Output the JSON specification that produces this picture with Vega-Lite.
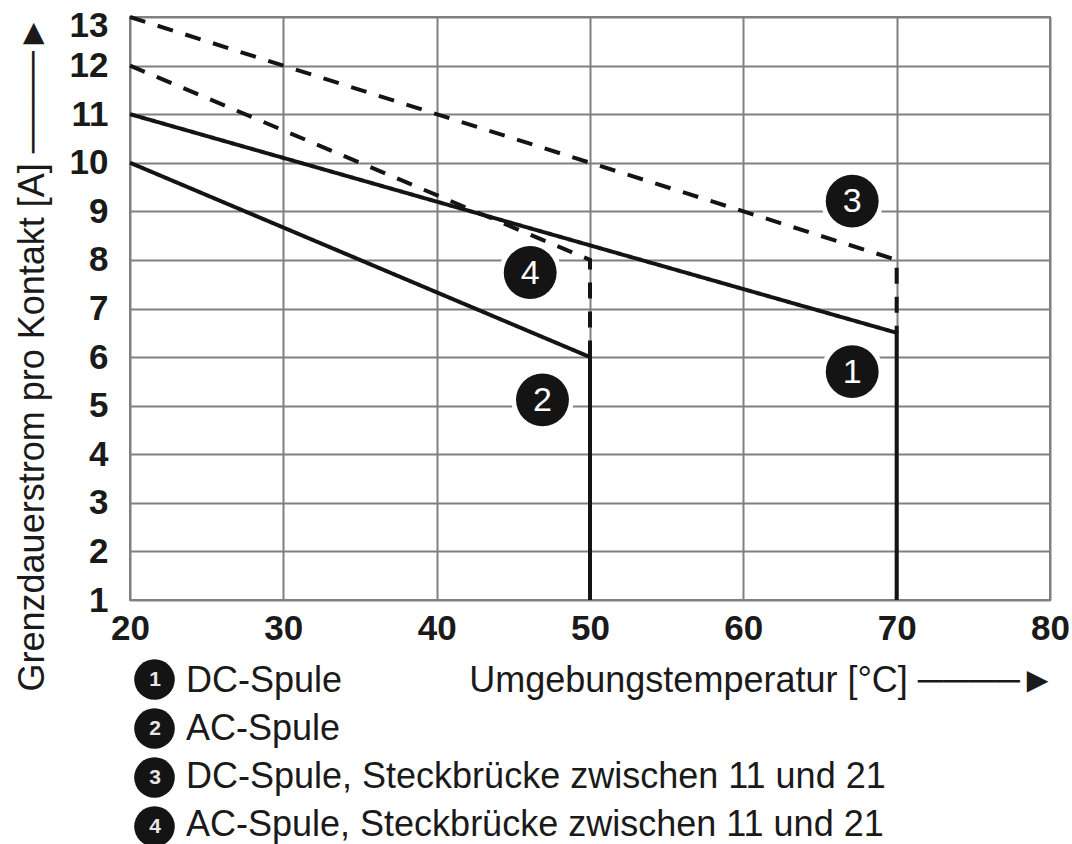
{
  "$schema": "https://vega.github.io/schema/vega-lite/v6.json",
  "width": 920,
  "height": 583,
  "autosize": {"type": "none"},
  "padding": {"left": 130, "top": 17, "right": 22, "bottom": 244},
  "background": "white",
  "config": {
    "font": "Liberation Sans, DejaVu Sans",
    "view": {"stroke": "#808080", "strokeWidth": 2}
  },
  "datasets": {
    "kurven": [
      {"kurve": "1 DC-Spule", "steckbruecke": "nein", "punkt": 1, "temp": 20, "strom": 11},
      {"kurve": "1 DC-Spule", "steckbruecke": "nein", "punkt": 2, "temp": 70, "strom": 6.5},
      {"kurve": "1 DC-Spule", "steckbruecke": "nein", "punkt": 3, "temp": 70, "strom": 1},
      {"kurve": "2 AC-Spule", "steckbruecke": "nein", "punkt": 1, "temp": 20, "strom": 10},
      {"kurve": "2 AC-Spule", "steckbruecke": "nein", "punkt": 2, "temp": 50, "strom": 6},
      {"kurve": "2 AC-Spule", "steckbruecke": "nein", "punkt": 3, "temp": 50, "strom": 1},
      {"kurve": "3 DC-Spule, Steckbrücke zwischen 11 und 21", "steckbruecke": "ja", "punkt": 1, "temp": 20, "strom": 13},
      {"kurve": "3 DC-Spule, Steckbrücke zwischen 11 und 21", "steckbruecke": "ja", "punkt": 2, "temp": 70, "strom": 8},
      {"kurve": "3 DC-Spule, Steckbrücke zwischen 11 und 21", "steckbruecke": "ja", "punkt": 3, "temp": 70, "strom": 6.5},
      {"kurve": "4 AC-Spule, Steckbrücke zwischen 11 und 21", "steckbruecke": "ja", "punkt": 1, "temp": 20, "strom": 12},
      {"kurve": "4 AC-Spule, Steckbrücke zwischen 11 und 21", "steckbruecke": "ja", "punkt": 2, "temp": 50, "strom": 8},
      {"kurve": "4 AC-Spule, Steckbrücke zwischen 11 und 21", "steckbruecke": "ja", "punkt": 3, "temp": 50, "strom": 6}
    ],
    "marken": [
      {"nr": "1", "kurve": "1 DC-Spule", "temp": 67.1, "strom": 5.7},
      {"nr": "2", "kurve": "2 AC-Spule", "temp": 46.9, "strom": 5.12},
      {"nr": "3", "kurve": "3 DC-Spule, Steckbrücke zwischen 11 und 21", "temp": 67.1, "strom": 9.21},
      {"nr": "4", "kurve": "4 AC-Spule, Steckbrücke zwischen 11 und 21", "temp": 46.1, "strom": 7.74}
    ]
  },
  "encoding": {
    "x": {
      "field": "temp",
      "type": "quantitative",
      "scale": {"domain": [20, 80], "nice": false, "zero": false},
      "axis": {
        "values": [20, 30, 40, 50, 60, 70, 80],
        "grid": true,
        "gridColor": "#808080",
        "gridWidth": 2,
        "gridOpacity": 1,
        "domain": false,
        "ticks": false,
        "labelFontSize": 35,
        "labelFontWeight": "bold",
        "labelColor": "#1a1a1a",
        "labelPadding": 11,
        "labelFlush": false,
        "title": "Umgebungstemperatur [°C]  ────►",
        "titleFontSize": 36,
        "titleFontWeight": "normal",
        "titleColor": "#1a1a1a",
        "titleX": 925,
        "titleY": 80,
        "titleAlign": "right",
        "titleBaseline": "middle"
      }
    },
    "y": {
      "field": "strom",
      "type": "quantitative",
      "scale": {"domain": [1, 13], "nice": false, "zero": false},
      "axis": {
        "values": [1, 2, 3, 4, 5, 6, 7, 8, 9, 10, 11, 12, 13],
        "grid": true,
        "gridColor": "#808080",
        "gridWidth": 2,
        "gridOpacity": 1,
        "domain": false,
        "ticks": false,
        "labelFontSize": 35,
        "labelFontWeight": "bold",
        "labelColor": "#1a1a1a",
        "labelPadding": 22,
        "labelFlush": false,
        "labelOffset": {"condition": {"test": "datum.value == 13", "value": 8}, "value": 0},
        "title": "Grenzdauerstrom pro Kontakt [A]  ────►",
        "titleFontSize": 36,
        "titleFontWeight": "normal",
        "titleColor": "#1a1a1a",
        "titleAngle": -90,
        "titleX": -98,
        "titleY": 336,
        "titleAlign": "center",
        "titleBaseline": "middle"
      }
    }
  },
  "layer": [
    {
      "data": {"name": "kurven"},
      "mark": {"type": "line", "strokeWidth": 4, "clip": false},
      "encoding": {
        "detail": {"field": "kurve"},
        "order": {"field": "punkt", "type": "quantitative"},
        "strokeDash": {
          "field": "steckbruecke",
          "type": "nominal",
          "scale": {"domain": ["nein", "ja"], "range": [[1, 0], [16, 13]]},
          "legend": null
        },
        "color": {
          "field": "kurve",
          "type": "nominal",
          "scale": {"range": ["#141414", "#141414", "#141414", "#141414"]},
          "legend": {
            "orient": "none",
            "legendX": 20,
            "legendY": 646,
            "direction": "vertical",
            "title": null,
            "padding": 0,
            "labelFontSize": 36,
            "labelColor": "#1a1a1a",
            "labelLimit": 1200,
            "labelOffset": 0,
            "symbolSize": 0,
            "symbolOpacity": 0,
            "symbolStrokeWidth": 0,
            "rowPadding": 12,
            "labelExpr": "slice(datum.label, 2)"
          }
        }
      }
    },
    {
      "data": {"name": "marken"},
      "mark": {"type": "point", "shape": "circle", "filled": true, "size": 3900, "color": "white", "opacity": 1},
      "encoding": {}
    },
    {
      "data": {"name": "marken"},
      "mark": {"type": "point", "filled": true, "size": 2800, "color": "#141414", "opacity": 1},
      "encoding": {
        "shape": {
          "field": "nr",
          "type": "nominal",
          "scale": {"range": ["circle", "circle", "circle", "circle"]},
          "legend": {
            "orient": "none",
            "legendX": 4,
            "legendY": 642,
            "direction": "vertical",
            "title": null,
            "padding": 0,
            "symbolType": "circle",
            "symbolSize": 1650,
            "symbolFillColor": "#141414",
            "symbolStrokeColor": "#141414",
            "symbolStrokeWidth": 0,
            "symbolOpacity": 1,
            "labelFontSize": 21,
            "labelFontWeight": "bold",
            "labelColor": "#e6e6e6",
            "labelAlign": "center",
            "labelBaseline": "middle",
            "labelOffset": -20,
            "rowPadding": 8
          }
        }
      }
    },
    {
      "data": {"name": "marken"},
      "mark": {"type": "text", "color": "white", "fontSize": 34, "align": "center", "baseline": "middle", "dy": 1},
      "encoding": {
        "text": {"field": "nr"}
      }
    }
  ]
}
